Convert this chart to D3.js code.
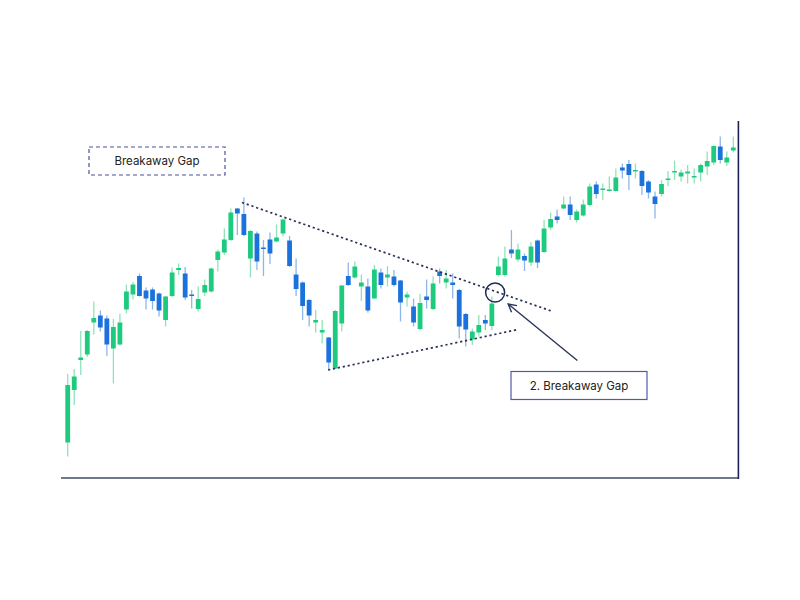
<!DOCTYPE html>
<html><head><meta charset="utf-8">
<script src="https://cdn.jsdelivr.net/npm/d3@7"></script>
<style>html,body{margin:0;padding:0;background:#fff;}svg{display:block;}</style>
</head><body>
<svg id="chart" width="800" height="600"></svg>
<script>
// ---- data (price units) ----
const opens  = [27.1,37.6,43.6,44.7,51.1,52.5,51.9,45.9,46.7,53.7,56.7,60.4,57.5,57.7,56.9,51.6,56.4,61.6,60.9,56.7,53.8,57.1,57.3,63.6,65.1,67.6,73.9,72.8,63.9,68.9,66.1,67.7,67.3,68.9,67.5,60.7,59.1,55.6,51.1,49.1,48.1,41.9,50.9,60.4,60.1,58.3,58.3,55.9,61.1,60.1,60.3,59.5,56.1,54.3,49.8,56.3,53.8,61.3,59.1,59.1,57.6,52.8,47.7,49.1,51.6,50.4,60.6,60.6,65.7,63.7,64.4,63.1,67.5,65.2,70.1,72.3,73.9,74.7,71.6,72.5,74.6,78.7,77.6,77.4,77.4,82.1,82.8,81.3,81.4,79.3,76.3,76.8,79.7,81.1,80.3,80.9,80.1,81.1,82.3,83.1,86.3,83.1,85.5];
const closes = [38.6,40.3,44.1,49.4,52.0,50.1,46.7,50.2,51.1,57.3,58.7,56.4,55.9,55.4,53.5,56.3,61.1,62.0,56.1,56.4,55.8,58.6,61.9,65.3,67.7,73.1,72.9,68.6,69.4,63.3,65.8,64.9,68.1,71.7,62.4,57.8,54.4,52.5,51.6,49.6,43.1,53.4,58.5,58.6,62.3,59.1,53.5,61.7,58.6,60.7,58.6,55.1,56.7,51.1,55.0,55.6,58.9,60.4,59.9,58.6,50.3,49.7,49.3,50.6,50.9,54.9,62.3,63.9,64.9,65.7,63.5,66.3,63.1,69.9,71.8,71.6,74.7,72.6,73.3,74.7,78.3,76.8,77.9,77.7,80.1,81.5,80.6,81.6,78.4,77.1,74.8,78.8,79.9,81.4,81.1,81.3,80.4,82.6,83.4,86.4,83.6,84.1,86.1];
const highs  = [40.8,41.8,49.4,49.6,55.3,53.5,52.5,51.8,52.9,58.7,59.2,60.9,58.1,58.1,57.1,56.4,62.1,62.9,62.2,57.6,58.3,59.7,62.1,65.7,69.9,73.9,74.0,76.1,69.6,69.3,67.6,69.1,70.7,71.9,68.4,63.9,59.3,55.8,53.6,51.6,48.2,53.6,58.6,63.1,63.3,60.7,59.9,62.6,61.9,62.4,61.6,59.6,57.3,55.9,56.8,59.7,60.3,61.9,61.6,60.9,57.8,53.0,49.9,52.6,52.6,56.3,64.3,66.3,69.6,66.9,64.9,67.2,67.7,71.6,73.1,73.7,76.3,76.3,73.7,75.7,78.9,79.3,78.9,80.3,81.9,82.9,83.6,82.9,81.6,79.6,77.3,79.6,81.4,83.5,81.7,82.6,81.9,82.9,85.3,86.5,88.3,85.3,88.3];
const lows   = [24.3,34.6,40.6,44.2,48.7,49.3,44.4,38.9,46.5,52.9,55.7,56.3,53.7,53.7,52.3,50.3,56.2,60.6,55.6,53.9,53.3,56.4,57.1,61.3,64.6,67.4,68.6,68.4,60.1,61.6,60.4,62.8,67.1,68.3,62.2,56.4,51.6,50.3,49.1,46.9,41.6,41.8,49.3,58.4,59.9,55.4,53.1,55.8,57.9,58.3,58.3,51.3,54.3,50.3,49.6,53.9,53.6,58.9,57.9,55.9,47.9,46.3,46.6,48.3,49.6,49.6,60.3,60.3,64.0,63.3,61.4,62.4,62.0,65.0,69.6,70.9,73.8,71.6,71.1,72.3,74.3,75.9,75.6,77.3,77.3,79.9,77.6,79.9,76.6,75.9,71.9,76.3,78.4,79.6,79.3,78.9,78.9,79.3,80.6,82.6,82.9,82.4,85.1];
const days = d3.range(1, opens.length + 1);

// pattern annotations in (day index, price) units
const upperTrend = [[26.7, 75.1], [74.1, 53.4]];
const lowerTrend = [[39.9, 41.6], [69.0, 49.7]];
const gapPoint = [65.5, 57.1];
const arrowFrom = [78.1, 43.5];
const arrowTo = [67.5, 54.8];
const labels = ["Breakaway Gap", "2. Breakaway Gap"];

// ---- drawing ----
const svg = d3.select("#chart");
const x = d3.scaleLinear().domain([0, days.length - 1]).range([67.7, 733.3]);
const y = d3.scaleLinear().domain([20, 90]).range([478, 128]);

const GREEN = "#1ecb7e", BLUE = "#1b72dd";
const GREEN_W = "#8fe3bb", BLUE_W = "#8fb6ea";
const bodyW = 4.8;

const candles = days.map((d, i) => ({ i, o: opens[i], c: closes[i], h: highs[i], l: lows[i], up: closes[i] >= opens[i] }));

const g = svg.append("g");
g.selectAll("line.wick").data(candles).join("line")
  .attr("class", "wick")
  .attr("x1", d => x(d.i)).attr("x2", d => x(d.i))
  .attr("y1", d => y(d.h)).attr("y2", d => y(d.l))
  .attr("stroke", d => d.up ? GREEN_W : BLUE_W)
  .attr("stroke-width", 1.3);

g.selectAll("rect.body").data(candles).join("rect")
  .attr("class", "body")
  .attr("x", d => x(d.i) - bodyW / 2)
  .attr("width", bodyW)
  .attr("y", d => y(Math.max(d.o, d.c)))
  .attr("height", d => Math.max(1.5, Math.abs(y(d.o) - y(d.c))))
  .attr("fill", d => d.up ? GREEN : BLUE);

// axes frame
svg.append("line").attr("x1", 61).attr("x2", 739).attr("y1", 478).attr("y2", 478)
  .attr("stroke", "#6e7b8f").attr("stroke-width", 2);
svg.append("line").attr("x1", 738.4).attr("x2", 738.4).attr("y1", 121).attr("y2", 479)
  .attr("stroke", "#1d2352").attr("stroke-width", 1.6);

// trendlines
const line = d3.line().x(d => x(d[0])).y(d => y(d[1]));
[upperTrend, lowerTrend].forEach(t => {
  svg.append("path").attr("d", line(t)).attr("fill", "none")
    .attr("stroke", "#283255").attr("stroke-width", 1.7)
    .attr("stroke-dasharray", "2.2,2.8");
});

// gap circle
svg.append("circle").attr("cx", x(gapPoint[0])).attr("cy", y(gapPoint[1])).attr("r", 9.5)
  .attr("fill", "none").attr("stroke", "#1e2a52").attr("stroke-width", 1.5);

// arrow
const ax1 = x(arrowFrom[0]), ay1 = y(arrowFrom[1]), ax2 = x(arrowTo[0]), ay2 = y(arrowTo[1]);
svg.append("line").attr("x1", ax1).attr("y1", ay1).attr("x2", ax2).attr("y2", ay2)
  .attr("stroke", "#2b3558").attr("stroke-width", 1.4);
const ang = Math.atan2(ay1 - ay2, ax1 - ax2);
const hl = 9, spread = 0.5;
const head = [
  [ax2 + hl * Math.cos(ang - spread), ay2 + hl * Math.sin(ang - spread)],
  [ax2, ay2],
  [ax2 + hl * Math.cos(ang + spread), ay2 + hl * Math.sin(ang + spread)]
];
svg.append("path").attr("d", d3.line()(head)).attr("fill", "none")
  .attr("stroke", "#2b3558").attr("stroke-width", 1.4);

// label boxes
svg.append("rect").attr("x", 89).attr("y", 147).attr("width", 136).attr("height", 28)
  .attr("fill", "#fff").attr("stroke", "#4b519a").attr("stroke-width", 1.2)
  .attr("stroke-dasharray", "4,3");
svg.append("text").attr("x", 157).attr("y", 161).attr("text-anchor", "middle")
  .attr("dominant-baseline", "central")
  .attr("font-family", "Inter, 'Open Sans', sans-serif").attr("font-size", 11.5)
  .attr("fill", "#222").text(labels[0]);

svg.append("rect").attr("x", 511).attr("y", 371.5).attr("width", 136).attr("height", 28)
  .attr("fill", "#fff").attr("stroke", "#5359a8").attr("stroke-width", 1.2);
svg.append("text").attr("x", 579).attr("y", 385.5).attr("text-anchor", "middle")
  .attr("dominant-baseline", "central")
  .attr("font-family", "Inter, 'Open Sans', sans-serif").attr("font-size", 11.5)
  .attr("fill", "#222").text(labels[1]);
</script>
</body></html>
